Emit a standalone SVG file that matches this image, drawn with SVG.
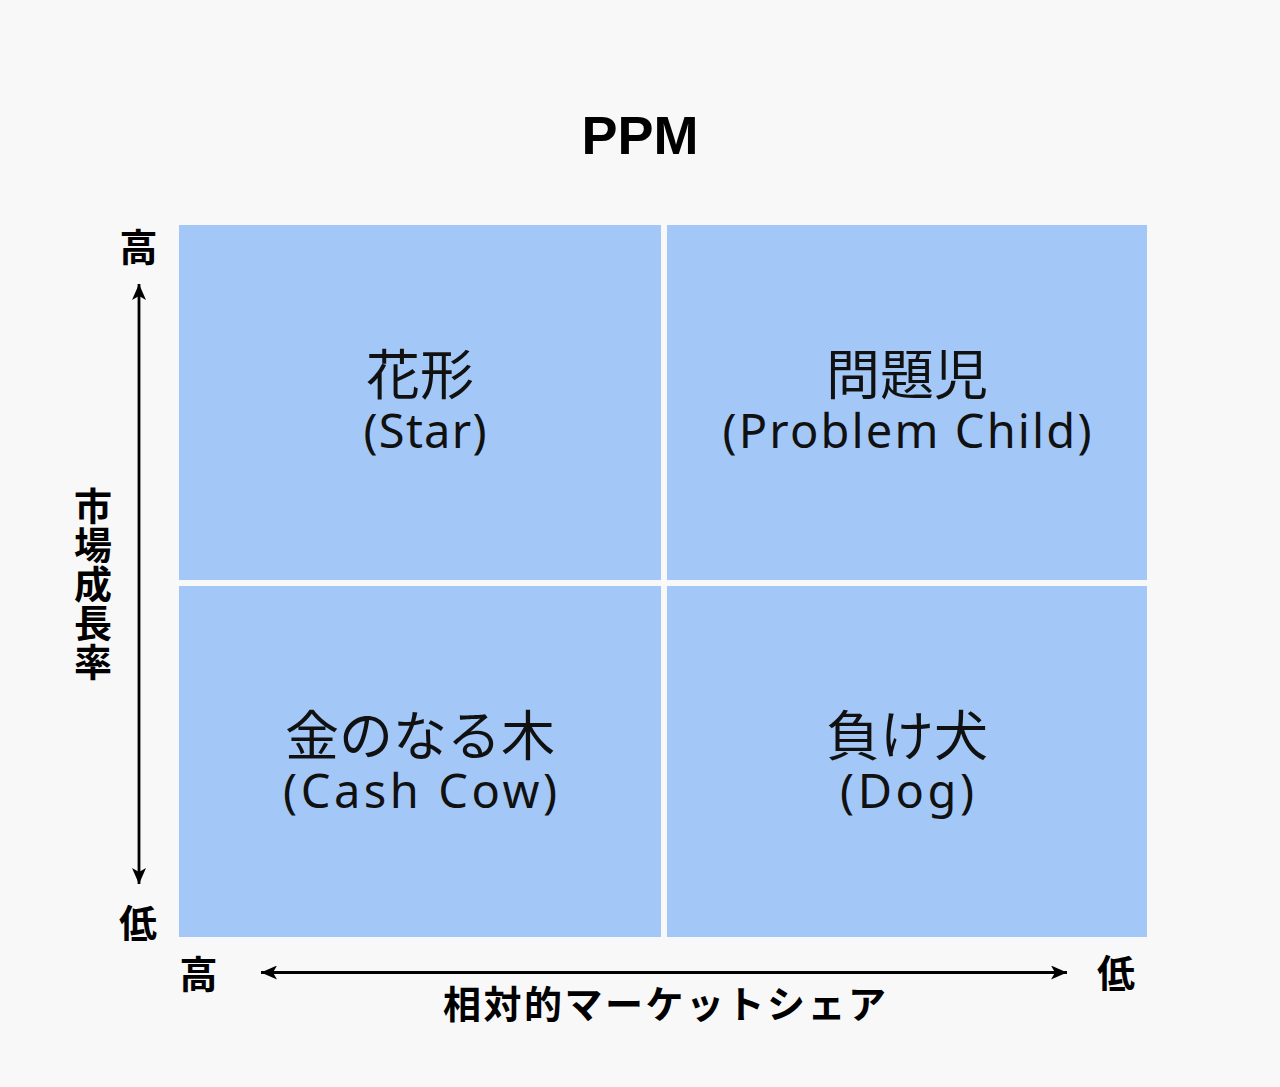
<svg xmlns="http://www.w3.org/2000/svg" width="1280" height="1087" viewBox="0 0 1280 1087">
<defs>
<style>
.bg{fill:#f8f8f8}
.quad{fill:#a3c8f8}
.lbl{fill:#111;text-anchor:middle}
.jp{font-family:"Noto Sans CJK JP","Noto Sans",sans-serif;font-size:54px;font-weight:400}
.en{font-family:"Noto Sans","Liberation Sans",sans-serif;font-size:47px;font-weight:400}
.ax{font-family:"Noto Sans CJK JP",sans-serif;font-size:38px;font-weight:700;fill:#000;text-anchor:middle}
.title{font-family:"Liberation Sans","Noto Sans",sans-serif;font-size:54px;font-weight:700;fill:#000;text-anchor:middle}
.arrow{stroke:#000;stroke-width:2.8;fill:none}
</style>
<marker id="ah" viewBox="0 0 16 14" refX="16" refY="7" markerWidth="16" markerHeight="14" markerUnits="userSpaceOnUse" orient="auto-start-reverse">
<path d="M0,0 L16,7 L0,14 L4,7 Z" fill="#000"/>
</marker>
</defs>
<rect class="bg" x="0" y="0" width="1280" height="1087"/>
<g id="title"><text class="title" x="640" y="154">PPM</text></g>
<g id="star">
<rect class="quad" x="179" y="225" width="482" height="355"/>
<text class="lbl"><tspan class="jp" x="420" y="395">花形</tspan><tspan class="en" x="425" y="448" textLength="123" lengthAdjust="spacing">(Star)</tspan></text>
</g>
<g id="problem-child">
<rect class="quad" x="667" y="225" width="480" height="355"/>
<text class="lbl"><tspan class="jp" x="907" y="395">問題児</tspan><tspan class="en" x="907" y="448" textLength="369" lengthAdjust="spacing">(Problem Child)</tspan></text>
</g>
<g id="cash-cow">
<rect class="quad" x="179" y="586" width="482" height="351"/>
<text class="lbl"><tspan class="jp" x="420" y="756">金のなる木</tspan><tspan class="en" x="420" y="808" textLength="274" lengthAdjust="spacing">(Cash Cow)</tspan></text>
</g>
<g id="dog">
<rect class="quad" x="667" y="586" width="480" height="351"/>
<text class="lbl"><tspan class="jp" x="907" y="756">負け犬</tspan><tspan class="en" x="907" y="808" textLength="134" lengthAdjust="spacing">(Dog)</tspan></text>
</g>
<g id="y-axis-label">
<text class="ax" x="138.5" y="261">高</text>
<text class="ax" x="138" y="936.5">低</text>
<text class="ax" x="93" y="487" style="writing-mode:vertical-rl;text-anchor:start;letter-spacing:1px">市場成長率</text>
</g>
<g id="x-axis-label">
<text class="ax" x="198.5" y="987.5">高</text>
<text class="ax" x="1116" y="987">低</text>
<text class="ax" x="443" y="1018" style="text-anchor:start;letter-spacing:2.5px">相対的マーケットシェア</text>
</g>
<g id="connectors">
<line class="arrow" x1="139" y1="284" x2="139" y2="884" marker-start="url(#ah)" marker-end="url(#ah)"/>
<line class="arrow" x1="261" y1="972.5" x2="1067" y2="972.5" marker-start="url(#ah)" marker-end="url(#ah)"/>
</g>
</svg>
